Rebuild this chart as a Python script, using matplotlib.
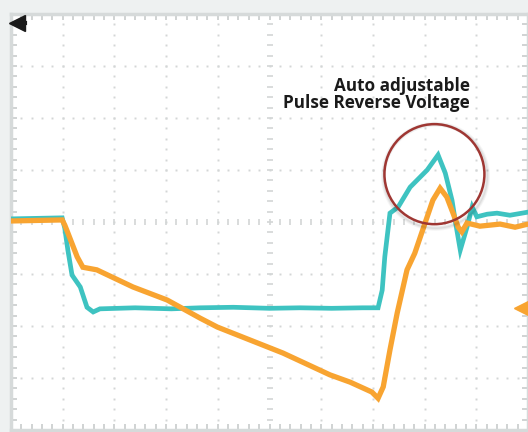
import numpy as np
import matplotlib
matplotlib.use("Agg")
import matplotlib.pyplot as plt
from matplotlib.patches import Ellipse

# ---- data (screen divisions) ----
cyan_x = [0.00, 0.99, 1.04, 1.10, 1.18, 1.34, 1.47, 1.59, 1.72, 2.40, 3.10, 3.66, 4.30, 5.00, 5.59, 6.20, 6.80, 7.10,
          7.18, 7.23, 7.33, 7.49, 7.72, 8.05, 8.26, 8.40, 8.53, 8.59, 8.69, 8.82, 8.92, 9.01, 9.21, 9.40, 9.65, 10.0]
cyan_y = [0.06, 0.08, -0.12, -0.54, -1.02, -1.25, -1.64, -1.73, -1.67, -1.65, -1.67, -1.65, -1.64, -1.66, -1.65,
          -1.66, -1.65, -1.65, -1.31, -0.67, 0.17, 0.29, 0.67, 1.00, 1.29, 0.94, 0.42, 0.04, -0.54, -0.10, 0.29,
          0.10, 0.15, 0.17, 0.13, 0.19]

orange_x = [0.00, 0.99, 1.04, 1.10, 1.28, 1.39, 1.66, 2.36, 3.02, 3.66, 3.99, 5.26, 6.17, 6.56, 6.98, 7.10,
            7.20, 7.33, 7.47, 7.66, 7.81, 8.05, 8.16, 8.30, 8.43, 8.55, 8.65, 8.72, 8.82, 9.07, 9.46, 9.75, 10.0]
orange_y = [0.02, 0.04, -0.06, -0.21, -0.67, -0.87, -0.92, -1.25, -1.50, -1.85, -2.02, -2.52, -2.94, -3.08,
            -3.27, -3.39, -3.17, -2.46, -1.75, -0.92, -0.60, 0.10, 0.42, 0.65, 0.48, 0.17, -0.10, -0.19, -0.02,
            -0.08, -0.04, -0.10, -0.04]

label_lines = ["Auto adjustable", "Pulse Reverse Voltage"]

CYAN = "#3ec3c1"
ORANGE = "#f8a431"
GRID = "#d3d6d6"

fig = plt.figure(figsize=(5.28, 4.32), dpi=100, facecolor="#eef1f1")
ax = fig.add_axes([11 / 528, 2 / 432, 517 / 528, 416 / 432])
ax.set_facecolor("white")
ax.set_xlim(0, 10)
ax.set_ylim(-4, 4)

for s in ax.spines.values():
    s.set_color("#d6dada")
    s.set_linewidth(2.5)

minor = np.arange(0, 10.01, 0.2)
ax.set_xticks(minor)
ax.set_yticks(np.arange(-4, 4.01, 0.2))
ax.tick_params(which="both", direction="in", length=4, width=1.2, color="#c8cccc",
               top=True, right=True, labelbottom=False, labelleft=False)

# dotted graticule
for gx in range(1, 10):
    if gx == 5:
        continue
    yy = np.arange(-4, 4.01, 0.2)
    ax.plot([gx] * len(yy), yy, ls="none", marker="s", ms=1.4, mew=0, color=GRID, zorder=1)
for gy in range(-3, 4):
    if gy == 0:
        continue
    xx = np.arange(0, 10.01, 0.2)
    ax.plot(xx, [gy] * len(xx), ls="none", marker="s", ms=1.4, mew=0, color=GRID, zorder=1)
# center axes with dashes
xx = np.arange(0, 10.01, 0.2)
ax.plot(xx, [0] * len(xx), ls="none", marker="|", ms=5, mew=1.2, color=GRID, zorder=1)
yy = np.arange(-4, 4.01, 0.2)
ax.plot([5] * len(yy), yy, ls="none", marker="_", ms=5, mew=1.2, color=GRID, zorder=1)

# traces
ax.plot(cyan_x, cyan_y, color=CYAN, lw=3.4, solid_joinstyle="miter", zorder=3)
ax.plot(orange_x, orange_y, color=ORANGE, lw=3.8, solid_joinstyle="miter", zorder=4)

# highlight circle with soft shadow
cx, cy = 8.19, 0.92
for i, a in enumerate([0.06, 0.05, 0.04]):
    ax.add_patch(Ellipse((cx + 0.02, cy - 0.04), 2 * 0.967 + 0.04 * (i + 1), 2 * 0.962 + 0.04 * (i + 1),
                         fill=False, ec="black", lw=2, alpha=a, zorder=5))
ax.add_patch(Ellipse((cx, cy), 2 * 0.967, 2 * 0.962, fill=False, ec="#9f3733", lw=1.8, zorder=6))

ax.text(8.88, 2.52, label_lines[0], ha="right", va="baseline", fontsize=12.3,
        fontfamily="Open Sans", fontweight="bold", color="#1a1a1a", zorder=7)
ax.text(8.88, 2.19, label_lines[1], ha="right", va="baseline", fontsize=12.3,
        fontfamily="Open Sans", fontweight="bold", color="#1a1a1a", zorder=7)

# channel markers
ax.plot([0.12], [3.83], marker="<", ms=11, color="#1a1a1a", clip_on=False, zorder=8)
ax.plot([0.12, 0.27], [3.83, 3.83], color="#1a1a1a", lw=3, clip_on=False, zorder=8)
ax.plot([9.87], [-1.65], marker="<", ms=10, color=ORANGE, clip_on=False, zorder=8)
ax.plot([9.87, 10.05], [-1.65, -1.65], color=ORANGE, lw=2.8, clip_on=False, zorder=8)

fig.savefig("out.png", dpi=100, facecolor=fig.get_facecolor())
